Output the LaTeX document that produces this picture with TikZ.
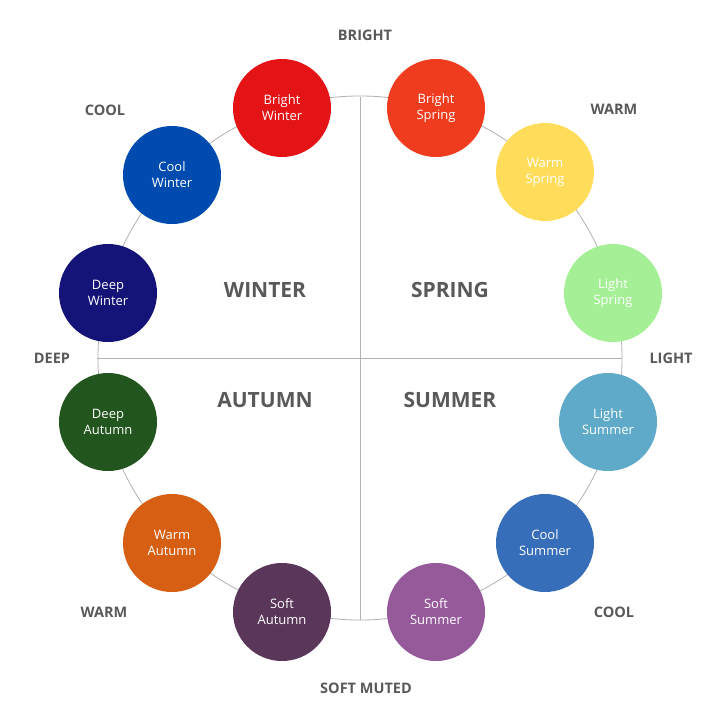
\documentclass[tikz,border=0pt]{standalone}
\usepackage{fontspec}
\setmainfont{Open Sans}
\begin{document}
\begin{tikzpicture}[x=1pt,y=-1pt,
  seas/.style={circle,minimum size=98pt,inner sep=0pt,text=white,align=center,font=\fontsize{13}{16}\selectfont},
  dir/.style={text=black!65,font=\bfseries\fontsize{14.5}{16}\selectfont},
  big/.style={text=black!65,font=\bfseries\fontsize{21}{24}\selectfont}]
\useasboundingbox[fill=white] (0,0) rectangle (720,720);
\coordinate (c) at (360,358);
\draw[black!30,line width=0.8pt] (c) circle[radius=262];
\coordinate (t) at (360,97); \coordinate (b) at (360,620);
\coordinate (l) at (97,358); \coordinate (r) at (622,358);
\draw[black!30,line width=0.8pt] (t) -- (b) (l) -- (r);
\node[seas,fill={rgb,255:red,228;green,20;blue,22}] (bw) at (282,108) {Bright\\Winter};
\node[seas,fill={rgb,255:red,240;green,60;blue,30}] (bs) at (436,108) {Bright\\Spring};
\node[seas,fill={rgb,255:red,255;green,220;blue,90}] (ws) at (545,172) {Warm\\Spring};
\node[seas,fill={rgb,255:red,165;green,240;blue,150}] (ls) at (613,293) {Light\\Spring};
\node[seas,fill={rgb,255:red,95;green,170;blue,200}] (lu) at (608,422) {Light\\Summer};
\node[seas,fill={rgb,255:red,55;green,110;blue,185}] (cu) at (545,543) {Cool\\Summer};
\node[seas,fill={rgb,255:red,150;green,90;blue,155}] (su) at (436,612) {Soft\\Summer};
\node[seas,fill={rgb,255:red,90;green,55;blue,90}] (sa) at (282,612) {Soft\\Autumn};
\node[seas,fill={rgb,255:red,215;green,95;blue,20}] (wa) at (172,543) {Warm\\Autumn};
\node[seas,fill={rgb,255:red,35;green,85;blue,30}] (da) at (108,422) {Deep\\Autumn};
\node[seas,fill={rgb,255:red,20;green,20;blue,120}] (dw) at (108,293) {Deep\\Winter};
\node[seas,fill={rgb,255:red,0;green,75;blue,175}] (cw) at (172,175) {Cool\\Winter};
\node[dir] (n1) at (365,35) {BRIGHT};
\node[dir] (n2) at (105,110) {COOL};
\node[dir] (n3) at (614,109) {WARM};
\node[dir] (n4) at (52,358) {DEEP};
\node[dir] (n5) at (671,358) {LIGHT};
\node[dir] (n6) at (104,612) {WARM};
\node[dir] (n7) at (614,612) {COOL};
\node[dir] (n8) at (366,688) {SOFT MUTED};
\node[big] (w) at (265,290) {WINTER};
\node[big] (s) at (450,290) {SPRING};
\node[big] (a) at (265,400) {AUTUMN};
\node[big] (u) at (450,400) {SUMMER};
\end{tikzpicture}
\end{document}
